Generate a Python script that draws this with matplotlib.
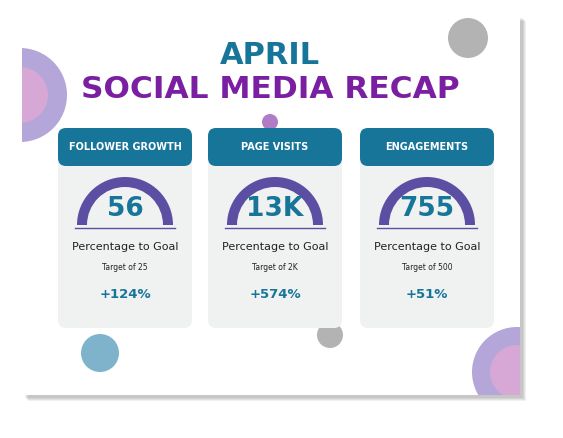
import matplotlib.pyplot as plt
from matplotlib.patches import FancyBboxPatch, Rectangle, Circle, Wedge

titles = ["FOLLOWER GROWTH", "PAGE VISITS", "ENGAGEMENTS"]
values = ["56", "13K", "755"]
targets = ["Target of 25", "Target of 2K", "Target of 500"]
changes = ["+124%", "+574%", "+51%"]
card_x = [58, 208, 360]

teal = "#18759a"
purple = "#5b4ea3"

fig = plt.figure(figsize=(5.63, 4.38), dpi=100)
ax = fig.add_axes([0, 0, 1, 1])
ax.set_xlim(0, 563)
ax.set_ylim(438, 0)
ax.axis("off")

# slide with shadow
for i in range(4):
    ax.add_patch(Rectangle((22 + 3 + i, 15 + 3 + i), 498, 380, color="black", alpha=0.06, lw=0))
slide = Rectangle((22, 15), 498, 380, facecolor="white", lw=0, zorder=1)
ax.add_patch(slide)

# decorations
for c, r, col in [((20, 95), 47, "#b4a6d8"), ((20, 95), 28, "#d7a7d6"),
                  ((517, 372), 45, "#b4a6d8"), ((517, 372), 27, "#d7a7d6")]:
    p = Circle(c, r, color=col, lw=0, zorder=2)
    ax.add_patch(p)
    p.set_clip_path(slide)
ax.add_patch(Circle((468, 38), 20, color="#b3b3b3", lw=0, zorder=2))
ax.add_patch(Circle((270, 122), 8, color="#b07cc6", lw=0, zorder=2))
ax.add_patch(Circle((100, 353), 19, color="#7fb3cc", lw=0, zorder=2))
ax.add_patch(Circle((330, 335), 13, color="#b3b3b3", lw=0, zorder=2))

ax.text(270, 55, "APRIL", color=teal, fontsize=22, fontweight="bold", ha="center", va="center", zorder=5)
ax.text(270, 90, "SOCIAL MEDIA RECAP", color="#7b1fa2", fontsize=22.5, fontweight="bold", ha="center", va="center", zorder=5)

for x, t, v, tg, ch in zip(card_x, titles, values, targets, changes):
    w = 134
    cx = x + w / 2
    ax.add_patch(FancyBboxPatch((x, 128), w, 200, boxstyle="round,pad=0,rounding_size=8",
                                facecolor="#f0f1f1", lw=0, zorder=3))
    ax.add_patch(FancyBboxPatch((x, 128), w, 38, boxstyle="round,pad=0,rounding_size=8",
                                facecolor=teal, lw=0, zorder=4))
    ax.text(cx, 147, t, color="white", fontsize=7, fontweight="bold", ha="center", va="center", zorder=5)
    ax.add_patch(Wedge((cx, 225), 48, 180, 360, width=10, color=purple, lw=0, zorder=4))
    ax.plot([cx - 50, cx + 50], [228, 228], color=purple, lw=1, zorder=4)
    ax.text(cx, 209, v, color=teal, fontsize=19, fontweight="bold", ha="center", va="center", zorder=5)
    ax.text(cx, 247, "Percentage to Goal", color="#222222", fontsize=8, ha="center", va="center", zorder=5)
    ax.text(cx, 268, tg, color="#222222", fontsize=5.5, ha="center", va="center", zorder=5)
    ax.text(cx, 294, ch, color=teal, fontsize=9.5, fontweight="bold", ha="center", va="center", zorder=5)

fig.savefig("out.png", dpi=100)
